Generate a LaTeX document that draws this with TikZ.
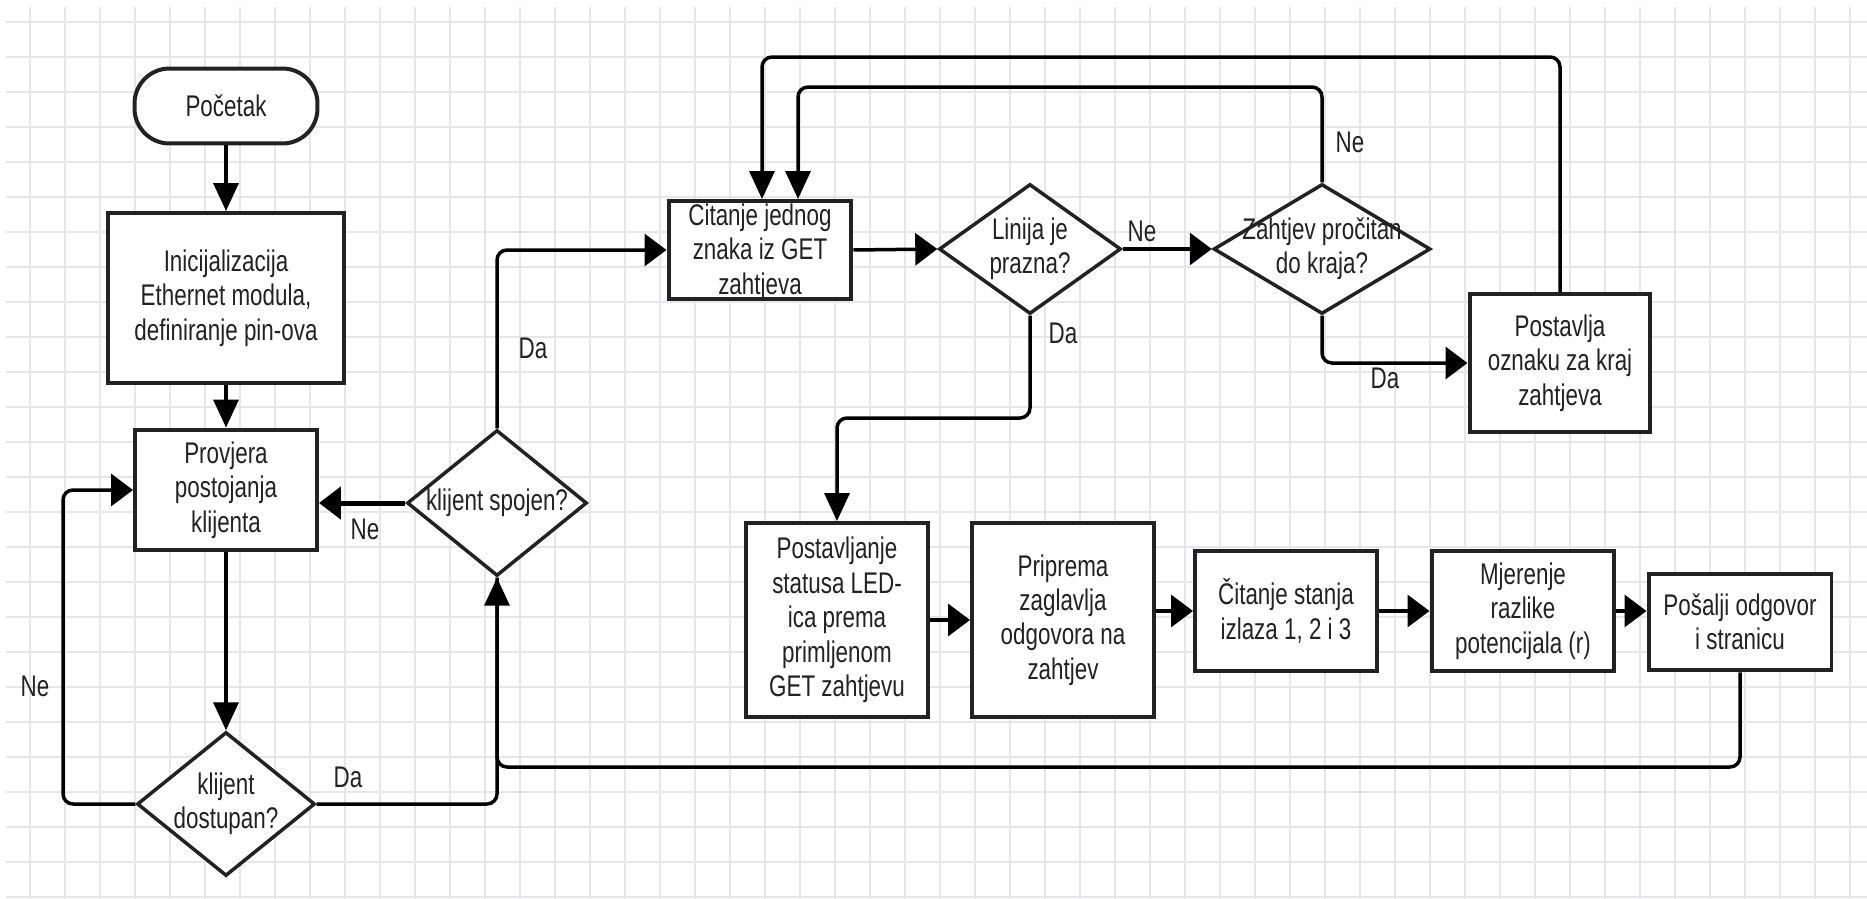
\documentclass[tikz,border=0pt]{standalone}
\usepackage{fontspec}
\setmainfont{Liberation Sans}[FakeStretch=0.75]
\usetikzlibrary{shapes.geometric, arrows.meta}
\definecolor{gridc}{HTML}{E6E6EA}
\definecolor{ink}{HTML}{222222}
\begin{document}
\begin{tikzpicture}[x=0.02cm, y=-0.02cm,
  every node/.style={font=\fontsize{17}{19.6}\selectfont, text=ink},
  box/.style={draw=ink, line width=0.08cm, fill=white, inner sep=0pt},
  dia/.style={diamond, draw=ink, line width=0.07cm, fill=white, inner sep=0pt},
  txt/.style={align=center, inner sep=0pt},
  lbl/.style={inner sep=0pt},
  conn/.style={draw=black, line width=0.07cm, rounded corners=0.2cm},
  arrV/.style={conn, -{Triangle[length=0.56cm, width=0.5cm]}},
  arrH/.style={conn, -{Triangle[length=0.44cm, width=0.64cm]}},
]
\useasboundingbox (0,0) rectangle (1867,899);
\fill[white] (0,0) rectangle (1867,899);
% grid
\foreach \gx in {0,...,52} {\draw[gridc, line width=0.03cm] ({30+35*\gx},7) -- ({30+35*\gx},899);}
\foreach \gy in {0,...,25} {\draw[gridc, line width=0.03cm] (6,{22+35*\gy}) -- (1867,{22+35*\gy});}

% nodes
\node[box, rounded corners=0.7cm, minimum width=3.66cm, minimum height=1.5cm] (start) at (226,106) {Početak};
\node[box, minimum width=4.72cm, minimum height=3.4cm] (init) at (226,298) {};
\node[txt] (initT) at (init) {Inicijalizacija\\Ethernet modula,\\definiranje pin-ova};
\node[box, minimum width=3.64cm, minimum height=2.42cm] (prov) at (226,490) {};
\node[txt] (provT) at (prov) {Provjera\\postojanja\\klijenta};
\node[dia, minimum width=3.56cm, minimum height=2.88cm] (dost) at (226,804) {};
\node[txt] (dostT) at (dost) {klijent\\dostupan?};
\node[dia, minimum width=3.6cm, minimum height=2.92cm] (spoj) at (497,503) {};
\node[txt] (spojT) at (spoj) {klijent spojen?};
\node[box, minimum width=3.66cm, minimum height=1.96cm] (cit) at (760,250) {};
\node[txt] (citT) at (cit) {Čitanje jednog\\znaka iz GET\\zahtjeva};
\node[dia, minimum width=3.64cm, minimum height=2.6cm] (lin) at (1030,249) {};
\node[txt] (linT) at (lin) {Linija je\\prazna?};
\node[dia, minimum width=4.34cm, minimum height=2.6cm] (zah) at (1322,249) {};
\node[txt] (zahT) at (zah) {Zahtjev pročitan\\do kraja?};
\node[box, minimum width=3.62cm, minimum height=2.76cm] (post) at (1560,363) {};
\node[txt] (postT) at (post) {Postavlja\\oznaku za kraj\\zahtjeva};
\node[box, minimum width=3.64cm, minimum height=3.88cm] (led) at (837,620) {};
\node[txt] (ledT) at (led) {Postavljanje\\statusa LED-\\ica prema\\primljenom\\GET zahtjevu};
\node[box, minimum width=3.64cm, minimum height=3.88cm] (prip) at (1063,620) {};
\node[txt] (pripT) at (prip) {Priprema\\zaglavlja\\odgovora na\\zahtjev};
\node[box, minimum width=3.64cm, minimum height=2.42cm] (cst) at (1286,611) {};
\node[txt] (cstT) at (cst) {Čitanje stanja\\izlaza 1, 2 i 3};
\node[box, minimum width=3.66cm, minimum height=2.4cm] (mjer) at (1523,611) {};
\node[txt] (mjerT) at (mjer) {Mjerenje\\razlike\\potencijala (r)};
\node[box, minimum width=3.66cm, minimum height=1.94cm] (pos) at (1740,622) {};
\node[txt] (posT) at (pos) {Pošalji odgovor\\i stranicu};

% helper coordinates
\coordinate (kl) at (63,0);
\coordinate (kb) at (497,767);
\coordinate (ko) at (762,57);
\coordinate (ki) at (798,87);
\coordinate (kd) at (900,418);

% connectors
\draw[arrV] (start.south) -- (init.north);
\draw[arrV] (init.south) -- (prov.north);
\draw[arrV] (prov.south) -- (dost.north);
\draw[arrH] (dost.west) -| (kl |- prov.west) -- (prov.west);
\draw[conn] (dost.east) -| (spoj.south);
\draw[arrV] (pos.south) |- (kb) -- (spoj.south);
\draw[arrH, line width=0.1cm] (spoj.west) -- (spoj.west -| prov.east);
\draw[arrH] (spoj.north) |- (cit.west);
\draw[arrH] (cit.east) -- (lin.west);
\draw[arrH] (lin.east) -- (zah.west);
\draw[arrV] (lin.south) |- (kd) -| (led.north);
\draw[arrV] (zah.north) |- (ki) -- (ki |- cit.north);
\draw[arrH] (zah.south) |- (post.west);
\draw[arrV] (post.north) |- (ko) -- (ko |- cit.north);
\draw[arrH] (led.east) -- (prip.west);
\draw[arrH] (cst.west -| prip.east) -- (cst.west);
\draw[arrH] (cst.east) -- (mjer.west);
\draw[arrH] (mjer.east) -- (mjer.east -| pos.west);

% labels
\node[lbl] (l1) at (35,686) {Ne};
\node[lbl] (l2) at (348,777) {Da};
\node[lbl] (l3) at (365,529) {Ne};
\node[lbl] (l4) at (533,348) {Da};
\node[lbl] (l5) at (1142,231) {Ne};
\node[lbl] (l6) at (1063,333) {Da};
\node[lbl] (l7) at (1350,142) {Ne};
\node[lbl] (l8) at (1385,378) {Da};
\end{tikzpicture}
\end{document}
